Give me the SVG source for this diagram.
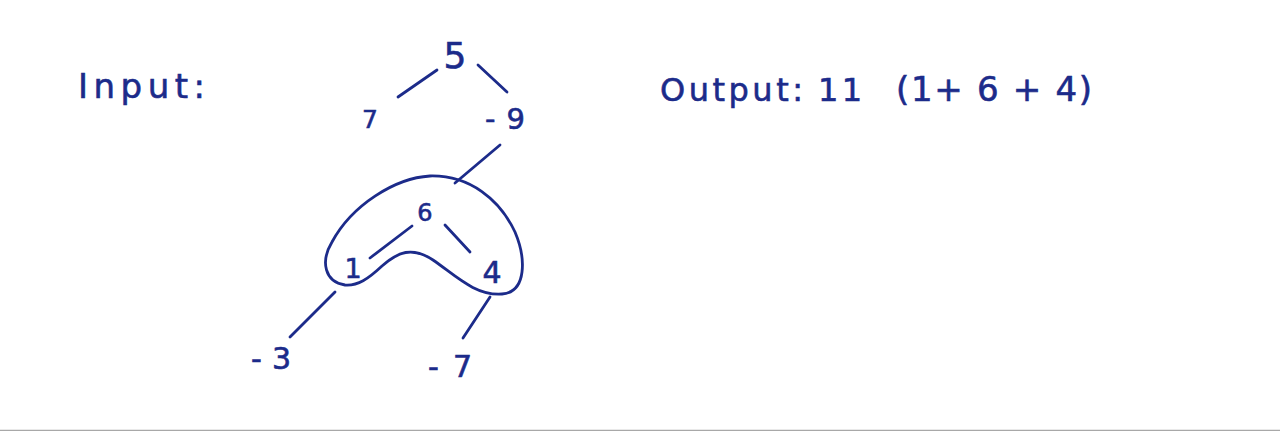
<svg xmlns="http://www.w3.org/2000/svg" width="1280" height="431" viewBox="0 0 1280 431">
<style>
.t{font-family:"DejaVu Sans","Liberation Sans",sans-serif;fill:#1c2b8a;stroke:#1c2b8a;stroke-width:0.6;}
.big{font-size:32px;}
.n{text-anchor:middle;}
.e{stroke:#1c2b8a;stroke-width:2.8;stroke-linecap:round;fill:none;}
</style>
<rect width="1280" height="431" fill="#ffffff"/>
<text class="t" x="78" y="98" font-size="34" textLength="127" lengthAdjust="spacing">Input:</text>
<text class="t big" y="101"><tspan x="660" textLength="143" lengthAdjust="spacing">Output:</tspan><tspan x="818" textLength="44" lengthAdjust="spacing">11</tspan><tspan x="896" font-size="34" textLength="196" lengthAdjust="spacing">(1+ 6 + 4)</tspan></text>
<g id="connectors">
<line class="e" x1="398" y1="97" x2="437" y2="70"/>
<line class="e" x1="478" y1="65" x2="507" y2="92"/>
<line class="e" x1="500" y1="145" x2="455" y2="183"/>
<line class="e" x1="370" y1="258" x2="412" y2="226"/>
<line class="e" x1="445" y1="225" x2="470" y2="252"/>
<line class="e" x1="335" y1="292" x2="290" y2="337"/>
<line class="e" x1="490" y1="297" x2="463" y2="338"/>
</g>
<g id="highlight">
<path class="e" d="M 345,285 C 325,282 320,262 332,242 C 352,205 395,178 430,176 C 470,175 500,200 515,232 C 526,258 527,292 502,294 C 475,296 455,275 433,260 C 412,246 398,252 382,266 C 368,279 358,286 345,285 Z"/>
</g>
<g id="n5"><text class="t n" x="455" y="68" font-size="36">5</text></g>
<g id="n7"><text class="t n" x="370" y="128" font-size="25">7</text></g>
<g id="nm9"><text class="t n" x="505" y="129" font-size="29" textLength="40" lengthAdjust="spacing">-9</text></g>
<g id="n6"><text class="t n" x="425" y="221" font-size="24">6</text></g>
<g id="n1"><text class="t n" x="353" y="278" font-size="27">1</text></g>
<g id="n4"><text class="t n" x="492" y="283" font-size="30">4</text></g>
<g id="nm3"><text class="t n" x="271" y="369" font-size="30" textLength="40" lengthAdjust="spacing">-3</text></g>
<g id="nm7"><text class="t n" x="450" y="377" font-size="30" textLength="44" lengthAdjust="spacing">-7</text></g>
<line x1="0" y1="430.5" x2="1280" y2="430.5" stroke="#a8a8a8" stroke-width="1.5"/>
</svg>
